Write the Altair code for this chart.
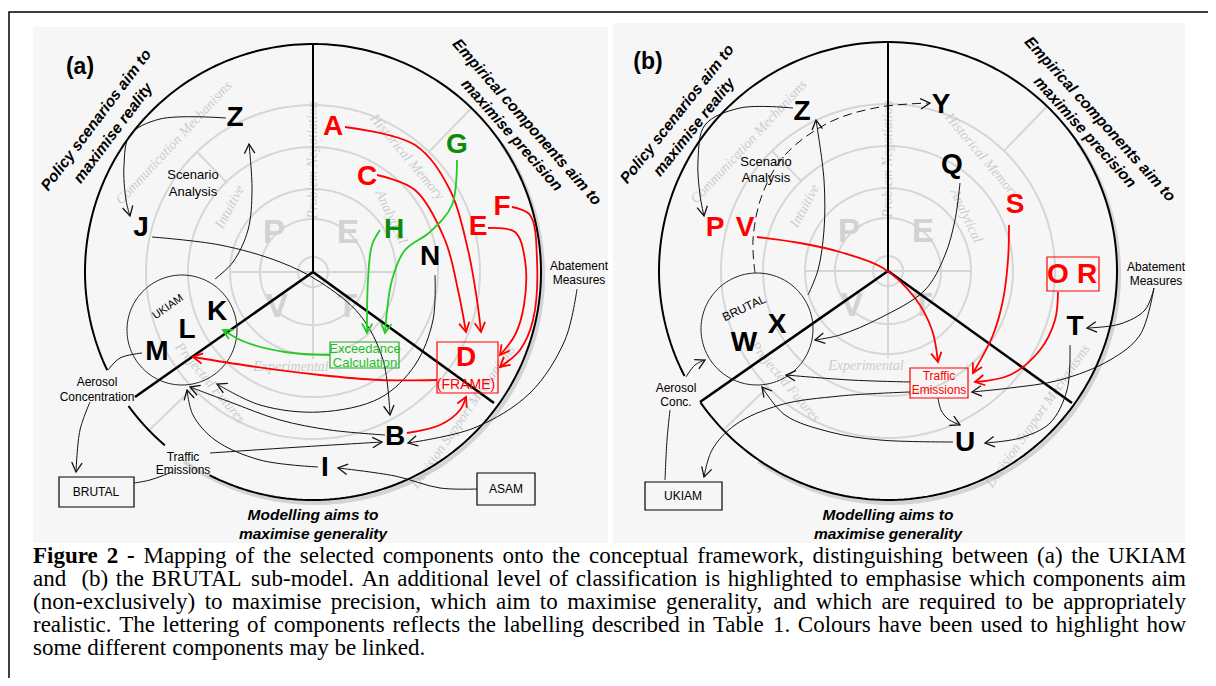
import math
import altair as alt
import numpy as np
import pandas as pd

# ---------------------------------------------------------------- data
# panel backgrounds (pixel coordinates of the figure)
panel_x1 = [33, 613]
panel_x2 = [608, 1185]
panel_y1 = [27, 23]
panel_y2 = [543, 543]

# big framework circle of each panel
centre_x = [313, 888]
centre_y = [272, 271]
outer_radius = [228, 229]
# visible parts of the outer circle (panel, start angle, end angle; degrees clockwise from +x)
arc_panel = [0, 0, 1]
arc_start = [154.5, 130.5, 152.7]
arc_end = [477.0, 144.0, 505.0]

# faded background framework
ring_radius = [167, 125, 83, 53, 15]
spoke_angle = [-46, -134, 136]
spoke_r0 = [167, 125, 167]
spoke_r1 = [228, 167, 228]
faded_words = ["Communication Mechanisms", "Intuitive", "Problem Negotiation", "Historical Memory",
               "Analytical", "Experimental", "Projected Futures", "Decision Support Mechanisms"]
faded_dx = [-139, -83, 0, 94, 78, -22, -103, 150]
faded_dy = [-129, -65, -112, -115, -55, 95, 111, 145]
faded_angle = [313, 298, 270, 50, 65, 0, 50, 305]
big_letters = ["P", "E", "V", "T"]
big_dx = [-39, 35, -36, 34]
big_dy = [-39, -39, 35, 35]

# thick black framework lines (x1, y1, x2, y2)
frame_x1 = [313, 313, 313, 888, 888, 888]
frame_y1 = [272, 272, 272, 271, 271, 271]
frame_x2 = [313, 135, 494, 888, 700, 1072]
frame_y2 = [45, 397, 403, 42, 402, 403]
frame_w = [2, 2.6, 2.6, 2, 2.6, 2.6]

# sub-model circles
sub_x = [182, 757]
sub_y = [330, 329]
sub_r = [55, 56]

# component letters
letters = ["Z", "J", "A", "C", "G", "H", "F", "E", "N", "K", "L", "M", "D", "B", "I",
           "Z", "Y", "Q", "S", "P", "V", "O", "R", "T", "W", "X", "U"]
letter_x = [235, 141, 333, 367, 457, 394, 502, 478, 430, 217, 187, 157, 466, 395, 325,
            802, 941, 952, 1015, 715, 745, 1058, 1087, 1075, 744, 777, 965]
letter_y = [118, 228, 127, 177, 145, 230, 207, 227, 257, 312, 330, 352, 358, 437, 468,
            112, 105, 165, 205, 228, 228, 275, 275, 327, 343, 325, 443]
letter_col = ["k", "k", "r", "r", "g", "g", "r", "r", "k", "k", "k", "k", "r", "k", "k",
              "k", "k", "k", "r", "r", "r", "r", "r", "k", "k", "k", "k"]

# small labels
label_text = ["Scenario", "Analysis", "Abatement", "Measures", "Aerosol", "Concentration",
              "Traffic", "Emissions", "BRUTAL", "ASAM", "UKIAM", "Exceedance", "Calculation", "(FRAME)",
              "Scenario", "Analysis", "Abatement", "Measures", "Aerosol", "Conc.", "UKIAM", "BRUTAL",
              "Traffic", "Emissions"]
label_x = [193, 193, 579, 579, 97, 97, 183, 183, 96, 506, 168, 365, 365, 466,
           766, 766, 1156, 1156, 676, 676, 683, 744, 939, 939]
label_y = [175, 192, 266, 280, 382, 397, 457, 470, 492, 489, 307, 349, 363, 385,
           162, 178, 267, 281, 388, 402, 496, 308, 376, 390]
label_size = [13, 13, 12, 12, 12, 12, 12, 12, 12, 12, 11, 13, 13, 14,
              13, 13, 12, 12, 12, 12, 12, 12, 12, 12]
label_angle = [0, 0, 0, 0, 0, 0, 0, 0, 0, 0, 325, 0, 0, 0,
               0, 0, 0, 0, 0, 0, 0, 335, 0, 0]
label_col = ["k"] * 11 + ["lg", "lg", "r"] + ["k"] * 8 + ["r", "r"]

# boxes (x1, y1, x2, y2)
box_x1 = [59, 477, 437, 330, 645, 1047, 910]
box_y1 = [477, 473, 342, 342, 482, 257, 368]
box_x2 = [134, 535, 498, 399, 722, 1099, 968]
box_y2 = [507, 505, 393, 368, 510, 291, 398]
box_col = ["k", "k", "r", "lg", "k", "r", "r"]

# headings
head_text = ["(a)", "(b)"]
head_x = [80, 648]
head_y = [67, 62]
side_text = ["Policy scenarios aim to", "maximise reality", "Empirical components aim to", "maximise precision",
             "Modelling aims to", "maximise generality",
             "Policy scenarios aim to", "maximise reality", "Empirical components aim to", "maximise precision",
             "Modelling aims to", "maximise generality"]
side_x = [96, 113, 527, 512, 313, 313, 677, 694, 1100, 1085, 888, 888]
side_y = [120, 133, 122, 135, 515, 534, 114, 127, 119, 132, 515, 534]
side_angle = [307, 307, 48.5, 48.5, 0, 0, 308.5, 308.5, 47.8, 47.8, 0, 0]

# linking curves: name -> points, colour, arrow at end
curves = {
    "a_ZJ": ([(226, 118), (160, 119), (130, 135), (124, 165), (126, 200), (130, 216)], "k", True),
    "a_KZ": ([(215, 279), (233, 262), (248, 230), (252, 190), (249, 144)], "k", True),
    "a_JB": ([(152, 237), (220, 245), (280, 262), (320, 282), (360, 315), (383, 360), (390, 415)], "k", True),
    "a_NU": ([(435, 275), (433, 320), (415, 365), (380, 398), (320, 412), (260, 405), (217, 384)], "k", True),
    "a_BU": ([(385, 435), (330, 430), (280, 420), (230, 402), (190, 387)], "k", True),
    "a_IU": ([(318, 467), (260, 460), (215, 440), (193, 415), (187, 390)], "k", True),
    "a_TB": ([(210, 453), (300, 447), (382, 442)], "k", True),
    "a_AB": ([(577, 289), (565, 340), (530, 393), (474, 428), (408, 443)], "k", True),
    "a_SI": ([(477, 489), (440, 488), (395, 476), (338, 468)], "k", True),
    "a_TR": ([(172, 472), (150, 480), (134, 483)], "k", False),
    "a_AC": ([(90, 402), (80, 430), (76, 472)], "k", True),
    "a_MA": ([(142, 353), (120, 358), (108, 370)], "k", False),
    "a_AD": ([(345, 127), (415, 145), (450, 190), (468, 250), (477, 300), (481, 332)], "r", True),
    "a_CD": ([(377, 175), (415, 190), (445, 240), (458, 290), (466, 332)], "r", True),
    "a_ED": ([(488, 228), (515, 232), (525, 260), (524, 305), (515, 335), (500, 355)], "r", True),
    "a_FD": ([(512, 207), (530, 215), (537, 260), (533, 320), (520, 350), (500, 367)], "r", True),
    "a_DL": ([(437, 380), (380, 380), (320, 375), (250, 366), (193, 357)], "r", True),
    "a_BD": ([(407, 433), (440, 425), (460, 410), (466, 397)], "r", True),
    "a_GX": ([(457, 160), (452, 205), (430, 232), (405, 250), (392, 280), (385, 333)], "g", True),
    "a_HX": ([(380, 230), (372, 245), (368, 280), (367, 333)], "g", True),
    "a_XK": ([(330, 355), (285, 352), (245, 342), (223, 330)], "g", True),
    "b_ZP": ([(793, 108), (740, 108), (705, 125), (698, 160), (700, 195), (704, 216)], "k", True),
    "b_WZ": ([(808, 295), (818, 270), (824, 230), (824, 180), (816, 120)], "k", True),
    "b_VT": ([(757, 237), (800, 243), (840, 252), (883, 268), (915, 298), (932, 330), (938, 362)], "r", True),
    "b_QW": ([(960, 183), (955, 220), (945, 255), (925, 290), (880, 318), (840, 335), (815, 340)], "k", True),
    "b_ST": ([(1009, 225), (1008, 260), (1003, 300), (993, 335), (973, 373)], "r", True),
    "b_OT": ([(1058, 292), (1055, 320), (1040, 350), (1010, 375), (975, 382)], "r", True),
    "b_AT": ([(1154, 288), (1145, 310), (1120, 324), (1087, 328)], "k", True),
    "b_AE": ([(1154, 288), (1140, 335), (1110, 360), (1060, 380), (1010, 388), (972, 392)], "k", True),
    "b_TU": ([(1070, 345), (1067, 390), (1050, 423), (1020, 438), (985, 443)], "k", True),
    "b_EU": ([(938, 398), (941, 410), (948, 419), (960, 425)], "k", True),
    "b_EW": ([(910, 382), (850, 380), (786, 375)], "k", True),
    "b_UW": ([(953, 442), (880, 440), (830, 432), (785, 415), (762, 387)], "k", True),
    "b_EK": ([(910, 392), (840, 396), (780, 405), (735, 425), (712, 450), (704, 477)], "k", True),
    "b_AW": ([(686, 377), (695, 365), (705, 360)], "k", True),
    "b_KA": ([(665, 480), (667, 440), (670, 410)], "k", False),
}
dashed_curve = [(755, 273), (753, 240), (762, 195), (785, 155), (830, 122), (880, 107), (930, 103)]

# caption (first three words bold); lines 1-4 are justified
caption_bold_words = 3
caption_lines = [
    "Figure 2 - Mapping of the selected components onto the conceptual framework, distinguishing between (a) the UKIAM",
    "and  (b) the BRUTAL sub-model. An additional level of classification is highlighted to emphasise which components aim",
    "(non-exclusively) to maximise precision, which aim to maximise generality, and which are required to be appropriately",
    "realistic. The lettering of components reflects the labelling described in Table 1. Colours have been used to highlight how",
    "some different components may be linked.",
]
caption_justified = [True, True, True, True, False]
caption_left = 33
caption_right = 1186
caption_y = [556, 579, 602, 625, 648]
CAPTION_SIZE = 23

COL = {"k": "#000000", "r": "#ff0000", "g": "#0b8c0b", "lg": "#1fbf1f"}
LINE_COL = {"k": "#111111", "r": "#ff0000", "g": "#22cc22"}
LINE_W = {"k": 1.0, "r": 1.8, "g": 1.8}

SANS = "Liberation Sans"
SERIF = "Liberation Serif"

# Times-Roman advance widths (1/1000 em), used to justify the caption words
_TW = {" ": 250, "!": 333, "(": 333, ")": 333, ",": 250, "-": 333, ".": 250, ":": 278, ";": 278,
       "0": 500, "1": 500, "2": 500, "3": 500, "4": 500, "5": 500, "6": 500, "7": 500, "8": 500, "9": 500,
       "A": 722, "B": 667, "C": 667, "D": 722, "E": 611, "F": 556, "G": 722, "H": 722, "I": 333, "J": 389,
       "K": 722, "L": 611, "M": 889, "N": 722, "O": 722, "P": 556, "Q": 722, "R": 667, "S": 556, "T": 611,
       "U": 722, "V": 722, "W": 944, "X": 722, "Y": 722, "Z": 611,
       "a": 444, "b": 500, "c": 444, "d": 500, "e": 444, "f": 333, "g": 500, "h": 500, "i": 278, "j": 278,
       "k": 500, "l": 278, "m": 778, "n": 500, "o": 500, "p": 500, "q": 500, "r": 333, "s": 389, "t": 278,
       "u": 500, "v": 500, "w": 722, "x": 500, "y": 500, "z": 444}
_TWB = dict(_TW)
_TWB.update({"F": 611, "i": 278, "g": 500, "u": 556, "r": 444, "e": 444, "2": 500, "-": 333})


def word_width(w, bold=False):
    table = _TWB if bold else _TW
    return sum(table.get(ch, 500) for ch in w) / 1000.0 * CAPTION_SIZE


# ---------------------------------------------------------------- scales
xs = alt.Scale(domain=[8, 1208], nice=False, zero=False)
ys = alt.Scale(domain=[8, 678], nice=False, zero=False, reverse=True)


def X(f="x"):
    return alt.X(f"{f}:Q", scale=xs, axis=None)


def Y(f="y"):
    return alt.Y(f"{f}:Q", scale=ys, axis=None)


def circle_points(cx, cy, r, a0, a1, n=160):
    t = np.radians(np.linspace(a0, a1, n))
    return cx + r * np.cos(t), cy + r * np.sin(t)


layers = []

# backgrounds
bg = pd.DataFrame({"x": panel_x1, "x2": panel_x2, "y": panel_y1, "y2": panel_y2})
layers.append(alt.Chart(bg).mark_rect(fill="#f6f6f6").encode(x=X(), x2="x2:Q", y=Y(), y2="y2:Q"))

# faded rings
rows = []
for p in range(2):
    for k, r in enumerate(ring_radius):
        xx, yy = circle_points(centre_x[p], centre_y[p], r, 0, 360)
        for i, (a, b) in enumerate(zip(xx, yy)):
            rows.append({"id": f"{p}-{k}", "i": i, "x": a, "y": b})
rings = pd.DataFrame(rows)
layers.append(alt.Chart(rings).mark_line(color="#d6d6d6", strokeWidth=2).encode(
    x=X(), y=Y(), detail="id:N", order="i:Q"))

# faded spokes + cross
rows = []
for p in range(2):
    cx, cy = centre_x[p], centre_y[p]
    for a, r0, r1 in zip(spoke_angle, spoke_r0, spoke_r1):
        t = math.radians(a)
        rows.append({"x": cx + r0 * math.cos(t), "y": cy + r0 * math.sin(t),
                     "x2": cx + r1 * math.cos(t), "y2": cy + r1 * math.sin(t)})
    rows.append({"x": cx - ring_radius[2], "y": cy, "x2": cx + ring_radius[2], "y2": cy})
    rows.append({"x": cx, "y": cy, "x2": cx, "y2": cy + ring_radius[2] + 4})
spk = pd.DataFrame(rows)
layers.append(alt.Chart(spk).mark_rule(color="#d6d6d6", strokeWidth=2).encode(
    x=X(), y=Y(), x2="x2:Q", y2="y2:Q"))

# faded words
rows = []
for p in range(2):
    for w, dx, dy, a in zip(faded_words, faded_dx, faded_dy, faded_angle):
        rows.append({"x": centre_x[p] + dx, "y": centre_y[p] + dy, "t": w, "a": a})
fw = pd.DataFrame(rows)
layers.append(alt.Chart(fw).mark_text(font=SERIF, fontSize=14, fontStyle="italic", color="#cccccc").encode(
    x=X(), y=Y(), text="t:N", angle=alt.Angle("a:Q", scale=None)))

rows = []
for p in range(2):
    for w, dx, dy in zip(big_letters, big_dx, big_dy):
        rows.append({"x": centre_x[p] + dx, "y": centre_y[p] + dy, "t": w})
bl = pd.DataFrame(rows)
layers.append(alt.Chart(bl).mark_text(font=SANS, fontSize=33, fontWeight="bold", color="#d2d2d2").encode(
    x=X(), y=Y(), text="t:N"))

# shadow + outer circles
rows = []
for p in range(2):
    xx, yy = circle_points(centre_x[p] + 2, centre_y[p] + 3, outer_radius[p], -35, 125)
    for i, (a, b) in enumerate(zip(xx, yy)):
        rows.append({"id": p, "i": i, "x": a, "y": b})
sh = pd.DataFrame(rows)
layers.append(alt.Chart(sh).mark_line(color="#bdbdbd", strokeWidth=4, opacity=0.6).encode(
    x=X(), y=Y(), detail="id:N", order="i:Q"))

rows = []
for k, (p, a0, a1) in enumerate(zip(arc_panel, arc_start, arc_end)):
    xx, yy = circle_points(centre_x[p], centre_y[p], outer_radius[p], a0, a1, 240)
    for i, (a, b) in enumerate(zip(xx, yy)):
        rows.append({"id": k, "i": i, "x": a, "y": b})
oc = pd.DataFrame(rows)
layers.append(alt.Chart(oc).mark_line(color="#000000", strokeWidth=2).encode(
    x=X(), y=Y(), detail="id:N", order="i:Q"))

# framework lines
fr = pd.DataFrame({"x": frame_x1, "y": frame_y1, "x2": frame_x2, "y2": frame_y2, "w": frame_w})
layers.append(alt.Chart(fr).mark_rule(color="#000000").encode(
    x=X(), y=Y(), x2="x2:Q", y2="y2:Q", strokeWidth=alt.StrokeWidth("w:Q", scale=None)))

# sub-model circles
rows = []
for k in range(2):
    xx, yy = circle_points(sub_x[k], sub_y[k], sub_r[k], 0, 360, 120)
    for i, (a, b) in enumerate(zip(xx, yy)):
        rows.append({"id": k, "i": i, "x": a, "y": b})
sc = pd.DataFrame(rows)
layers.append(alt.Chart(sc).mark_line(color="#222222", strokeWidth=1).encode(
    x=X(), y=Y(), detail="id:N", order="i:Q"))

# boxes
bx = pd.DataFrame({"x": box_x1, "y": box_y1, "x2": box_x2, "y2": box_y2,
                   "c": [COL[c] if c != "lg" else "#22aa22" for c in box_col]})
layers.append(alt.Chart(bx).mark_rect(fill="#ffffff", fillOpacity=0, strokeWidth=1.2).encode(
    x=X(), y=Y(), x2="x2:Q", y2="y2:Q", stroke=alt.Stroke("c:N", scale=None)))

# curves
rows, arrows = [], []
for name, (pts, c, arrow) in curves.items():
    for i, (a, b) in enumerate(pts):
        rows.append({"cid": name, "i": i, "x": a, "y": b, "c": LINE_COL[c], "w": LINE_W[c]})
    if arrow:
        (xa, ya), (xb, yb) = pts[-2], pts[-1]
        ang = math.degrees(math.atan2(yb - ya, xb - xa)) % 360
        arrows.append({"x": xb, "y": yb, "a": ang, "c": LINE_COL[c], "w": 1.3 if c == "k" else 1.8})
cv = pd.DataFrame(rows)
layers.append(alt.Chart(cv).mark_line(interpolate="catmull-rom").encode(
    x=X(), y=Y(), detail="cid:N", order="i:Q",
    color=alt.Color("c:N", scale=None), strokeWidth=alt.StrokeWidth("w:Q", scale=None)))

dc = pd.DataFrame({"i": range(len(dashed_curve)), "x": [p[0] for p in dashed_curve],
                   "y": [p[1] for p in dashed_curve]})
layers.append(alt.Chart(dc).mark_line(interpolate="catmull-rom", color="#111111", strokeWidth=1,
                                      strokeDash=[9, 5]).encode(x=X(), y=Y(), order="i:Q"))
(xa, ya), (xb, yb) = dashed_curve[-2], dashed_curve[-1]
arrows.append({"x": xb, "y": yb, "a": math.degrees(math.atan2(yb - ya, xb - xa)) % 360,
               "c": "#111111", "w": 1.3})

ar = pd.DataFrame(arrows)
layers.append(alt.Chart(ar).mark_point(shape="M-1,-0.55L0,0L-1,0.55", filled=False, size=360, opacity=1).encode(
    x=X(), y=Y(), angle=alt.Angle("a:Q", scale=None), color=alt.Color("c:N", scale=None),
    strokeWidth=alt.StrokeWidth("w:Q", scale=None)))

# component letters
lt = pd.DataFrame({"x": letter_x, "y": letter_y, "t": letters, "c": [COL[c] for c in letter_col]})
layers.append(alt.Chart(lt).mark_text(font=SANS, fontSize=28, fontWeight="bold").encode(
    x=X(), y=Y(), text="t:N", color=alt.Color("c:N", scale=None)))

# labels
lb = pd.DataFrame({"x": label_x, "y": label_y, "t": label_text, "s": label_size, "a": label_angle,
                   "c": [COL[c] for c in label_col]})
layers.append(alt.Chart(lb).mark_text(font=SANS).encode(
    x=X(), y=Y(), text="t:N", color=alt.Color("c:N", scale=None),
    size=alt.Size("s:Q", scale=None), angle=alt.Angle("a:Q", scale=None)))

# headings
hd = pd.DataFrame({"x": head_x, "y": head_y, "t": head_text})
layers.append(alt.Chart(hd).mark_text(font=SANS, fontSize=23, fontWeight="bold", color="#000000").encode(
    x=X(), y=Y(), text="t:N"))
sd = pd.DataFrame({"x": side_x, "y": side_y, "t": side_text, "a": side_angle})
layers.append(alt.Chart(sd).mark_text(font=SANS, fontSize=15.5, fontWeight="bold", fontStyle="italic",
                                      color="#000000").encode(
    x=X(), y=Y(), text="t:N", angle=alt.Angle("a:Q", scale=None)))

# caption, justified word by word
rows = []
for li, (line, just, yv) in enumerate(zip(caption_lines, caption_justified, caption_y)):
    words = line.split(" ")
    bold = [li == 0 and k < caption_bold_words for k in range(len(words))]
    widths = [word_width(w, b) for w, b in zip(words, bold)]
    gaps = len(words) - 1
    if just and gaps > 0:
        gap = (caption_right - caption_left - sum(widths)) / gaps
    else:
        gap = word_width(" ")
    xpos = caption_left
    for w, b, wd in zip(words, bold, widths):
        if w:
            rows.append({"x": xpos, "y": yv, "t": w, "b": b})
        xpos += wd + gap
cw = pd.DataFrame(rows)
layers.append(alt.Chart(cw[cw["b"]]).mark_text(font=SERIF, fontSize=CAPTION_SIZE, fontWeight="bold",
                                               align="left", color="#000000").encode(
    x=X(), y=Y(), text="t:N"))
layers.append(alt.Chart(cw[~cw["b"]]).mark_text(font=SERIF, fontSize=CAPTION_SIZE, align="left",
                                                color="#000000").encode(x=X(), y=Y(), text="t:N"))

# outer border
bd = pd.DataFrame({"x": [9], "y": [12], "x2": [1240], "y2": [720]})
layers.append(alt.Chart(bd).mark_rect(fill="#ffffff", fillOpacity=0, stroke="#000000", strokeWidth=1.5).encode(
    x=X(), y=Y(), x2="x2:Q", y2="y2:Q"))

chart = alt.layer(*layers).properties(
    width=1200, height=670, padding=0, autosize=alt.AutoSizeParams(type="none"),
    background="#ffffff",
).configure_view(stroke=None)

chart.save("out.html", embed_options={"renderer": "svg", "actions": False})
